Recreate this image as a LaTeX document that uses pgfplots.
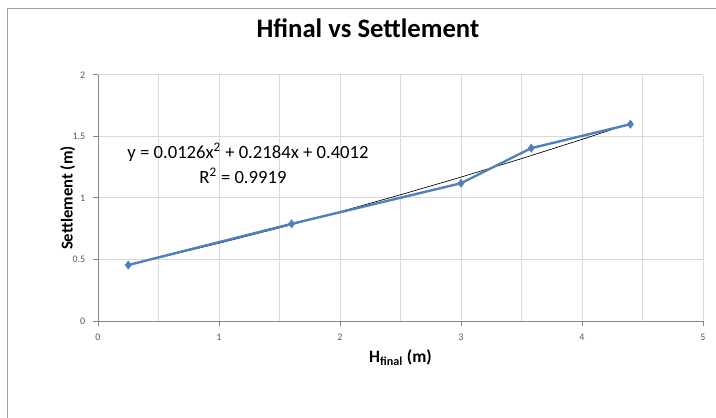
\documentclass[border=0pt]{standalone}
\usepackage{fontspec}
\setmainfont{Carlito}
\usepackage{pgfplots}
\pgfplotsset{compat=1.18}
\definecolor{xlblue}{HTML}{4F81BD}
\definecolor{gridgray}{HTML}{D9D9D9}
\definecolor{axgray}{HTML}{868686}
\definecolor{ticktext}{HTML}{595959}
\definecolor{framegray}{HTML}{A0A0A0}
\pgfplotstableread{
x y
0.25 0.455
1.60 0.790
3.00 1.120
3.58 1.405
4.40 1.600
}\settlement
\pgfplotstableread{
x y
0.25 0.4566
0.50 0.5136
1.00 0.6322
1.50 0.7572
2.00 0.8884
2.50 1.0260
3.00 1.1698
3.50 1.3200
4.00 1.4764
4.40 1.6061
}\trend
\begin{document}
\begin{tikzpicture}
\useasboundingbox (0,0) rectangle (537pt,312.75pt);
\draw[framegray, line width=0.75pt] (5.25pt,-5pt) -- (5.25pt,306pt) -- (545pt,306pt);
\begin{axis}[
  at={(73.5pt,72pt)}, anchor=south west,
  scale only axis, width=453.75pt, height=184.5pt,
  xmin=0, xmax=5, ymin=0, ymax=2,
  xtick={0,1,...,5}, minor xtick={0.5,1.5,...,4.5},
  ytick={0,0.5,1,1.5,2},
  yticklabels={0,0.5,1,1.5,2},
  grid=both,
  major grid style={gridgray, line width=0.75pt},
  minor grid style={gridgray, line width=0.75pt},
  axis lines=left,
  axis line style={-, axgray, line width=0.75pt},
  tick style={axgray, line width=0.75pt},
  tick align=outside, major tick length=4pt, minor tick length=0pt,
  ticklabel style={font=\fontsize{7.5}{9}\selectfont, text=ticktext},
  /pgf/number format/assume math mode=true,
  xticklabel style={yshift=-2pt},
  yticklabel style={xshift=-2pt},
  title={Hfinal vs Settlement},
  title style={font=\fontsize{20}{24}\selectfont\bfseries, at={(axis description cs:0.4462,1.1585)}, anchor=center},
  xlabel={H\textsubscript{final} (m)},
  xlabel style={font=\fontsize{13}{15}\selectfont\bfseries, at={(axis description cs:0.5,-0.1504)}, anchor=center},
  ylabel={Settlement (m)},
  ylabel style={font=\fontsize{12.5}{15}\selectfont\bfseries, at={(axis description cs:-0.05,0.5)}, anchor=center, rotate=0},
  clip=false,
]
\addplot[black, line width=0.5pt] table[x=x,y=y] {\trend};
\addplot[xlblue, line width=1.8pt, mark=diamond*, mark size=3pt, mark options={fill=xlblue, line width=0.5pt}] table[x=x,y=y] {\settlement};
\node[font=\fontsize{14}{16}\selectfont, anchor=center] at (axis cs:1.24,1.374) {y = 0.0126x\textsuperscript{2} + 0.2184x + 0.4012};
\node[font=\fontsize{14}{16}\selectfont, anchor=center] at (axis cs:1.198,1.179) {R\textsuperscript{2} = 0.9919};
\end{axis}
\end{tikzpicture}
\end{document}
